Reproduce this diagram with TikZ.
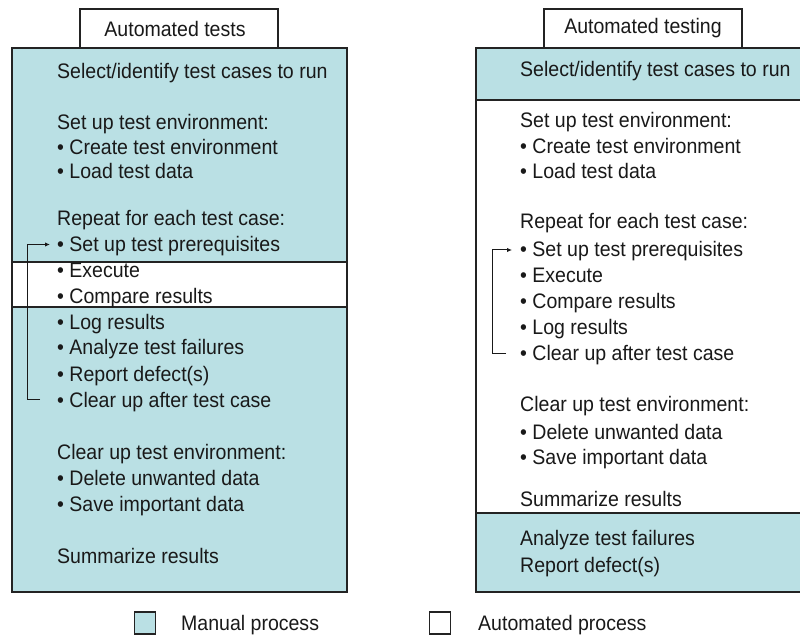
\documentclass[tikz,border=0pt]{standalone}
\usepackage{fontspec}
\setmainfont{Liberation Sans}[FakeStretch=0.93]
\usetikzlibrary{arrows.meta}
\definecolor{manual}{RGB}{186,224,228}
\definecolor{edgec}{RGB}{35,35,35}
\definecolor{ink}{RGB}{25,25,25}
\begin{document}
\begin{tikzpicture}[x=1pt,y=-1pt,
  txt/.style={anchor=base west, inner sep=0pt, font=\fontsize{21}{24}\selectfont, text=ink},
  panel/.style={draw=edgec, line width=1.2pt},
  tab/.style={draw=edgec, line width=1.2pt, fill=white, minimum width=198pt, minimum height=39pt, inner sep=0pt, font=\fontsize{21}{24}\selectfont, text=ink},
  loopline/.style={draw=ink, line width=1pt, -{Latex[length=5pt,width=4.5pt]}},
  legbox/.style={draw=edgec, line width=1.2pt, minimum width=21pt, minimum height=22pt, inner sep=0pt}]
\useasboundingbox (0,0) rectangle (800,636);
\clip (0,0) rectangle (800,636);

% ---------- left panel ----------
\path[fill=manual] (12,48) rectangle (347,592);
\path[fill=white] (12,262) rectangle (347,307);
\draw[panel] (12,262) -- (347,262) (12,307) -- (347,307);
\draw[panel] (12,48) rectangle (347,592);
\node[tab] (ltab) at (179,28.5) {\hspace*{-8pt}Automated tests};

\node[txt] (lsel)  at (57,79)  {Select/identify test cases to run};
\node[txt] (lenv)  at (57,130) {Set up test environment:};
\node[txt] (lcre)  at (57,155) {• Create test environment};
\node[txt] (lload) at (57,179) {• Load test data};
\node[txt] (lrep)  at (57,226) {Repeat for each test case:};
\node[txt] (lpre)  at (57,252) {• Set up test prerequisites};
\node[txt] (lexe)  at (57,277.5) {• Execute};
\node[txt] (lcmp)  at (57,303.5) {• Compare results};
\node[txt] (llog)  at (57,329.5) {• Log results};
\node[txt] (lana)  at (57,354.5) {• Analyze test failures};
\node[txt] (lrpt)  at (57,381) {• Report defect(s)};
\node[txt] (lclr)  at (57,407) {• Clear up after test case};
\node[txt] (lcenv) at (57,459) {Clear up test environment:};
\node[txt] (ldel)  at (57,485.5) {• Delete unwanted data};
\node[txt] (lsave) at (57,511) {• Save important data};
\node[txt] (lsum)  at (57,563) {Summarize results};

\draw[loopline] ([shift={(-17pt,7.5pt)}]lclr.base west) -- ++(-13pt,0pt)
  |- ([shift={(-7pt,7.5pt)}]lpre.base west);

% ---------- right panel ----------
\path[fill=white] (476,48) rectangle (806,592);
\path[fill=manual] (476,48) rectangle (806,100);
\path[fill=manual] (476,513) rectangle (806,592);
\draw[panel] (476,100) -- (806,100) (476,513) -- (806,513);
\draw[panel] (476,48) rectangle (806,592);
\node[tab] (rtab) at (643,28.5) {Automated testing};

\node[txt] (rsel)  at (520,77)  {Select/identify test cases to run};
\node[txt] (renv)  at (520,127.5) {Set up test environment:};
\node[txt] (rcre)  at (520,153.5) {• Create test environment};
\node[txt] (rload) at (520,179) {• Load test data};
\node[txt] (rrep)  at (520,229) {Repeat for each test case:};
\node[txt] (rpre)  at (520,257) {• Set up test prerequisites};
\node[txt] (rexe)  at (520,283) {• Execute};
\node[txt] (rcmp)  at (520,308.5) {• Compare results};
\node[txt] (rlog)  at (520,334.5) {• Log results};
\node[txt] (rclr)  at (520,360) {• Clear up after test case};
\node[txt] (rcenv) at (520,411) {Clear up test environment:};
\node[txt] (rdel)  at (520,439) {• Delete unwanted data};
\node[txt] (rsave) at (520,464) {• Save important data};
\node[txt] (rsum)  at (520,506) {Summarize results};
\node[txt] (rana)  at (520,545.5) {Analyze test failures};
\node[txt] (rrpt)  at (520,572) {Report defect(s)};

\draw[loopline] ([shift={(-14pt,7pt)}]rclr.base west) -- ++(-14pt,0pt)
  |- ([shift={(-8pt,7pt)}]rpre.base west);

% ---------- legend ----------
\node[legbox, fill=manual] (lgm) at (145,623) {};
\node[txt] (lgmt) at (181,630) {Manual process};
\node[legbox, fill=white] (lga) at (440,623) {};
\node[txt] (lgat) at (478,630) {Automated process};
\end{tikzpicture}
\end{document}
